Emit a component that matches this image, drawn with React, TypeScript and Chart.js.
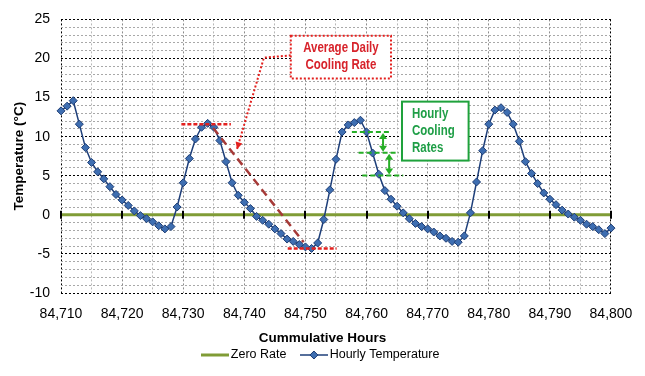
import { useEffect, useRef } from 'react';
import { Chart, registerables } from 'chart.js';

Chart.register(...registerables);

// ---------- data ----------
const HOURS = [
  84710, 84711, 84712, 84713, 84714, 84715, 84716, 84717, 84718, 84719,
  84720, 84721, 84722, 84723, 84724, 84725, 84726, 84727, 84728, 84729,
  84730, 84731, 84732, 84733, 84734, 84735, 84736, 84737, 84738, 84739,
  84740, 84741, 84742, 84743, 84744, 84745, 84746, 84747, 84748, 84749,
  84750, 84751, 84752, 84753, 84754, 84755, 84756, 84757, 84758, 84759,
  84760, 84761, 84762, 84763, 84764, 84765, 84766, 84767, 84768, 84769,
  84770, 84771, 84772, 84773, 84774, 84775, 84776, 84777, 84778, 84779,
  84780, 84781, 84782, 84783, 84784, 84785, 84786, 84787, 84788, 84789,
  84790, 84791, 84792, 84793, 84794, 84795, 84796, 84797, 84798, 84799,
  84800,
];
const TEMPS = [
  13.3, 13.9, 14.6, 11.6, 8.6, 6.7, 5.5, 4.6, 3.6, 2.6,
  1.9, 1.2, 0.5, -0.1, -0.5, -0.9, -1.4, -1.8, -1.5, 1.0,
  4.1, 7.2, 9.7, 11.2, 11.7, 11.2, 9.5, 6.8, 4.1, 2.5,
  1.6, 0.8, -0.2, -0.7, -1.2, -1.8, -2.4, -3.1, -3.4, -3.8,
  -4.1, -4.3, -3.6, -0.6, 3.2, 7.1, 10.6, 11.5, 11.8, 12.1,
  10.6, 7.9, 5.2, 3.1, 2.0, 1.1, 0.25, -0.5, -1.1, -1.5,
  -1.8, -2.2, -2.7, -3.0, -3.4, -3.5, -2.7, 0.25, 4.2, 8.2,
  11.6, 13.4, 13.7, 13.1, 11.6, 9.4, 6.8, 5.3, 4.0, 2.8,
  2.0, 1.3, 0.6, 0.1, -0.3, -0.7, -1.2, -1.5, -1.9, -2.4,
  -1.7,
];
const ZERO_HOURS = [84710, 84800];
const ZERO_VALUES = [0, 0];
const MAJOR_HOURS = [84710, 84720, 84730, 84740, 84750, 84760, 84770, 84780, 84790, 84800];

const X_MIN = 84710;
const X_MAX = 84800;
const Y_MIN = -10;
const Y_MAX = 25;

// annotation anchors (data coordinates)
const AVG_HIGH_X = [84729.7, 84737.8];
const AVG_HIGH_Y = [11.6, 11.6];
const AVG_LOW_X = [84747.1, 84755.1];
const AVG_LOW_Y = [-4.3, -4.3];
const AVG_SLOPE_X = [84734.9, 84749.7];
const AVG_SLOPE_Y = [11.1, -3.5];
const HR_LINE1_X = [84757.6, 84764.1];
const HR_LINE1_Y = [10.6, 10.6];
const HR_LINE2_X = [84758.7, 84765.3];
const HR_LINE2_Y = [7.93, 7.93];
const HR_LINE3_X = [84759.3, 84766.0];
const HR_LINE3_Y = [5.02, 5.02];
const HR_ARROW_X = [84762.7, 84763.7];
const HR_ARROW_FROM = [10.6, 7.93];
const HR_ARROW_TO = [7.93, 5.02];

const AVG_BOX = { x1: 84747.6, x2: 84764.0, y1: 22.9, y2: 17.45 };
const AVG_TEXT = ['Average Daily', 'Cooling Rate'];
const AVG_LEADER_X = [84747.6, 84743.2, 84738.8];
const AVG_LEADER_Y = [20.4, 20.1, 8.4];
const HR_BOX = { x1: 84765.8, x2: 84776.7, y1: 14.48, y2: 6.94 };
const HR_TEXT = ['Hourly', 'Cooling', 'Rates'];

// ---------- styles ----------
const FONT = "'Liberation Sans', Arial, Helvetica, sans-serif";
const ZERO_COLOR = '#809C36';
const LINE_COLOR = '#1E3F7A';
const MARK_FILL = '#3E6EB1';
const MARK_BORDER = '#1D3D74';
const RED = '#E3201E';
const RED_TEXT = '#D7232B';
const BROWN = '#A63A38';
const GREEN_LINE = '#26AE26';
const GREEN_BOX = '#1FA23C';
const GREEN_TEXT = '#1E9E46';

const pts = (xs: number[], ys: number[]) => xs.map((x, i) => ({ x, y: ys[i] }));

function legendIcon(kind: 'zero' | 'temp') {
  const c = document.createElement('canvas');
  c.width = 28;
  c.height = 10;
  const g = c.getContext('2d')!;
  if (kind === 'zero') {
    g.strokeStyle = ZERO_COLOR;
    g.lineWidth = 3;
    g.beginPath();
    g.moveTo(0, 5);
    g.lineTo(28, 5);
    g.stroke();
  } else {
    g.strokeStyle = LINE_COLOR;
    g.lineWidth = 1.5;
    g.beginPath();
    g.moveTo(0, 5);
    g.lineTo(28, 5);
    g.stroke();
    g.fillStyle = MARK_FILL;
    g.strokeStyle = MARK_BORDER;
    g.lineWidth = 1;
    g.beginPath();
    g.moveTo(14, 1);
    g.lineTo(18, 5);
    g.lineTo(14, 9);
    g.lineTo(10, 5);
    g.closePath();
    g.fill();
    g.stroke();
  }
  return c;
}

function narrowText(ctx: CanvasRenderingContext2D, text: string, x: number, y: number, align: CanvasTextAlign, color: string) {
  ctx.save();
  ctx.font = `bold 14px ${FONT}`;
  ctx.fillStyle = color;
  ctx.textBaseline = 'middle';
  ctx.textAlign = align;
  ctx.translate(x, y);
  ctx.scale(0.82, 1);
  ctx.fillText(text, 0, 0);
  ctx.restore();
}

function arrowHead(ctx: CanvasRenderingContext2D, fx: number, fy: number, tx: number, ty: number, len: number, half: number) {
  const a = Math.atan2(ty - fy, tx - fx);
  const bx = tx - len * Math.cos(a);
  const by = ty - len * Math.sin(a);
  ctx.beginPath();
  ctx.moveTo(tx, ty);
  ctx.lineTo(bx + half * Math.sin(a), by - half * Math.cos(a));
  ctx.lineTo(bx - half * Math.sin(a), by + half * Math.cos(a));
  ctx.closePath();
  ctx.fill();
}

const annotationPlugin = {
  id: 'annotations',
  afterDatasetsDraw(chart: any) {
    const { ctx } = chart;
    const xs = chart.scales.x;
    const ys = chart.scales.y;
    const px = (v: number) => xs.getPixelForValue(v);
    const py = (v: number) => ys.getPixelForValue(v);
    ctx.save();

    // axis tick marks crossing at zero
    ctx.strokeStyle = '#000';
    ctx.lineWidth = 2;
    ctx.setLineDash([]);
    for (const h of MAJOR_HOURS) {
      const x = Math.round(px(h));
      ctx.beginPath();
      ctx.moveTo(x, py(0) - 4);
      ctx.lineTo(x, py(0) + 4);
      ctx.stroke();
    }

    // red callout leader
    const lx = AVG_LEADER_X.map(px);
    const ly = AVG_LEADER_Y.map(py);
    ctx.strokeStyle = RED;
    ctx.fillStyle = RED;
    ctx.lineWidth = 2;
    ctx.setLineDash([2, 2]);
    ctx.beginPath();
    ctx.moveTo(lx[0], ly[0]);
    for (let i = 1; i < lx.length; i++) ctx.lineTo(lx[i], ly[i]);
    ctx.stroke();
    ctx.setLineDash([]);
    arrowHead(ctx, lx[1], ly[1], lx[2], ly[2], 7, 3.5);

    // red callout box
    const bx1 = px(AVG_BOX.x1), bx2 = px(AVG_BOX.x2), by1 = py(AVG_BOX.y1), by2 = py(AVG_BOX.y2);
    ctx.fillStyle = '#fff';
    ctx.fillRect(bx1, by1, bx2 - bx1, by2 - by1);
    ctx.strokeStyle = RED;
    ctx.lineWidth = 2;
    ctx.setLineDash([2, 2]);
    ctx.strokeRect(bx1, by1, bx2 - bx1, by2 - by1);
    ctx.setLineDash([]);
    const bcx = (bx1 + bx2) / 2, bcy = (by1 + by2) / 2;
    AVG_TEXT.forEach((t, i) => narrowText(ctx, t, bcx, bcy + (i - (AVG_TEXT.length - 1) / 2) * 17, 'center', RED_TEXT));

    // green box
    const gx1 = px(HR_BOX.x1), gx2 = px(HR_BOX.x2), gy1 = py(HR_BOX.y1), gy2 = py(HR_BOX.y2);
    ctx.fillStyle = '#fff';
    ctx.fillRect(gx1, gy1, gx2 - gx1, gy2 - gy1);
    ctx.strokeStyle = GREEN_BOX;
    ctx.lineWidth = 2;
    ctx.strokeRect(gx1, gy1, gx2 - gx1, gy2 - gy1);
    const gcy = (gy1 + gy2) / 2;
    HR_TEXT.forEach((t, i) => narrowText(ctx, t, gx1 + 10, gcy + (i - (HR_TEXT.length - 1) / 2) * 17, 'left', GREEN_TEXT));

    // green double arrows
    ctx.strokeStyle = GREEN_LINE;
    ctx.fillStyle = GREEN_LINE;
    ctx.lineWidth = 2;
    HR_ARROW_X.forEach((hx, i) => {
      const x = px(hx);
      const y1 = py(HR_ARROW_FROM[i]) + 1;
      const y2 = py(HR_ARROW_TO[i]) - 1;
      ctx.beginPath();
      ctx.moveTo(x, y1 + 4);
      ctx.lineTo(x, y2 - 4);
      ctx.stroke();
      arrowHead(ctx, x, y2, x, y1, 6, 4);
      arrowHead(ctx, x, y1, x, y2, 6, 4);
    });

    ctx.restore();
  },
};

export default function App() {
  const ref = useRef<HTMLCanvasElement | null>(null);

  useEffect(() => {
    const canvas = ref.current;
    if (!canvas) return;
    const iconZero = legendIcon('zero');
    const iconTemp = legendIcon('temp');

    const segment = (data: any, color: string, width: number, dash: number[]) => ({
      data,
      borderColor: color,
      borderWidth: width,
      borderDash: dash,
      pointRadius: 0,
      order: 0,
      clip: false,
    });

    const chart = new Chart(canvas, {
      type: 'line',
      data: {
        datasets: [
          {
            label: 'Zero Rate',
            data: pts(ZERO_HOURS, ZERO_VALUES),
            borderColor: ZERO_COLOR,
            borderWidth: 3,
            pointRadius: 0,
            order: 3,
          },
          {
            label: 'Hourly Temperature',
            data: pts(HOURS, TEMPS),
            borderColor: LINE_COLOR,
            borderWidth: 1.5,
            pointStyle: 'rectRot',
            pointRadius: 4,
            pointBackgroundColor: MARK_FILL,
            pointBorderColor: MARK_BORDER,
            pointBorderWidth: 1,
            tension: 0,
            order: 2,
            clip: false,
          },
          segment(pts(AVG_HIGH_X, AVG_HIGH_Y), RED, 2.5, [4, 2]),
          segment(pts(AVG_LOW_X, AVG_LOW_Y), RED, 2.5, [4, 2]),
          segment(pts(AVG_SLOPE_X, AVG_SLOPE_Y), BROWN, 2.5, [8, 5]),
          segment(pts(HR_LINE1_X, HR_LINE1_Y), GREEN_LINE, 2, [5, 3]),
          segment(pts(HR_LINE2_X, HR_LINE2_Y), GREEN_LINE, 2, [5, 3]),
          segment(pts(HR_LINE3_X, HR_LINE3_Y), GREEN_LINE, 2, [5, 3]),
        ] as any,
      },
      options: {
        animation: false,
        responsive: false,
        devicePixelRatio: 1,
        events: [],
        layout: { padding: { left: 0, right: 0, top: 10, bottom: 4.75 } },
        scales: {
          x: {
            type: 'linear',
            min: X_MIN,
            max: X_MAX,
            ticks: {
              stepSize: 5,
              autoSkip: false,
              maxRotation: 0,
              padding: 12.6,
              color: '#000',
              font: { family: FONT, size: 14 },
              callback: (v: any) => {
                const n = Math.round(Number(v));
                return n % 10 === 0 ? n.toLocaleString('en-US') : '';
              },
            },
            grid: {
              drawTicks: false,
              lineWidth: 1,
              color: (c: any) => {
                const n = Math.round(c.tick ? c.tick.value : 0);
                if (n === X_MIN || n === X_MAX) return '#000';
                return n % 10 === 0 ? '#8C8C8C' : '#B8B8B8';
              },
            },
            border: { display: false, dash: [2, 2] },
            afterFit: (s: any) => {
              s.height = 36.9;
            },
          },
          y: {
            type: 'linear',
            position: 'left',
            min: Y_MIN,
            max: Y_MAX,
            ticks: {
              stepSize: 1,
              autoSkip: false,
              padding: 11,
              color: '#000',
              font: { family: FONT, size: 14 },
              callback: (v: any) => {
                const n = Math.round(Number(v));
                return n % 5 === 0 ? String(n) : '';
              },
            },
            grid: {
              drawTicks: false,
              lineWidth: 1,
              color: (c: any) => {
                const n = Math.round(c.tick ? c.tick.value : 0);
                return n % 5 === 0 ? '#000' : '#A8A8A8';
              },
            },
            border: { display: false, dash: [2, 2] },
            title: {
              display: true,
              text: 'Temperature (°C)',
              color: '#000',
              font: { family: FONT, size: 13.5, weight: 'bold' },
              padding: { top: 11, bottom: 0 },
            },
            afterFit: (s: any) => {
              s.width = 61;
            },
          },
          y2: {
            type: 'linear',
            position: 'right',
            display: true,
            grid: { display: false, drawTicks: false },
            ticks: { display: false },
            border: { display: false },
            afterFit: (s: any) => {
              s.width = 31;
            },
          },
        },
        plugins: {
          tooltip: { enabled: false },
          title: {
            display: true,
            text: 'Cummulative Hours',
            position: 'bottom',
            weight: 500,
            fullSize: true,
            color: '#000',
            font: { family: FONT, size: 13.5, weight: 'bold' },
            padding: { top: 0, bottom: -15.35 },
          },
          legend: {
            display: true,
            position: 'bottom',
            align: 'center',
            labels: {
              usePointStyle: true,
              pointStyleWidth: 19,
              padding: 18,
              color: '#000',
              font: { family: FONT, size: 12.5 },
              generateLabels: () => [
                { text: 'Zero Rate', pointStyle: iconZero, fillStyle: 'transparent', strokeStyle: 'transparent', lineWidth: 0, hidden: false, datasetIndex: 0 },
                { text: 'Hourly Temperature', pointStyle: iconTemp, fillStyle: 'transparent', strokeStyle: 'transparent', lineWidth: 0, hidden: false, datasetIndex: 1 },
              ],
            },
          },
        },
      } as any,
      plugins: [annotationPlugin],
    });

    return () => chart.destroy();
  }, []);

  return (
    <div style={{ position: 'fixed', left: 0, top: 0, width: 645, height: 376, background: '#fff' }}>
      <canvas ref={ref} width={645} height={376} style={{ display: 'block', width: 645, height: 376 }} />
    </div>
  );
}
